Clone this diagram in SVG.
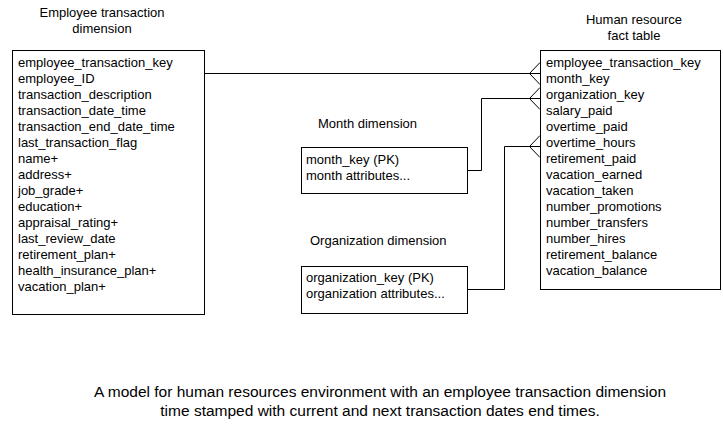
<svg xmlns="http://www.w3.org/2000/svg" width="723" height="424" viewBox="0 0 723 424">
<style>
text{font-family:"Liberation Sans",Arial,sans-serif;font-size:13px;fill:#000}
.box{fill:#fff;stroke:#000;stroke-width:1}
.ln{fill:none;stroke:#000;stroke-width:1}
.cap{font-size:15.5px}
.c{text-anchor:middle}
</style>
<rect width="723" height="424" fill="#fff"/>
<g id="title-employee"><text class="c" x="102" y="17">Employee transaction</text><text class="c" x="102" y="33">dimension</text></g>
<g id="title-fact"><text class="c" x="634" y="24">Human resource</text><text class="c" x="634" y="40">fact table</text></g>
<g id="title-month"><text x="318" y="128">Month dimension</text></g>
<g id="title-org"><text x="310" y="245">Organization dimension</text></g>
<g id="connectors">
<path class="ln" d="M204.5 73.5H540M529.5 73.5L540 62.5M529.5 73.5L540 84.5"/>
<path class="ln" d="M468 170.5H481.5V98.5H540M529.5 98.5L540 87.5M529.5 98.5L540 109.5"/>
<path class="ln" d="M468 289.5H504.5V146.5H540M529.5 146.5L540 135.5M529.5 146.5L540 157.5"/>
</g>
<g id="employee-transaction-dimension">
<rect class="box" x="12.5" y="50.5" width="192" height="264"/>
<text x="18" y="67">employee_transaction_key</text>
<text x="18" y="83">employee_ID</text>
<text x="18" y="99">transaction_description</text>
<text x="18" y="115">transaction_date_time</text>
<text x="18" y="131">transaction_end_date_time</text>
<text x="18" y="147">last_transaction_flag</text>
<text x="18" y="163">name+</text>
<text x="18" y="179">address+</text>
<text x="18" y="195">job_grade+</text>
<text x="18" y="211">education+</text>
<text x="18" y="227">appraisal_rating+</text>
<text x="18" y="243">last_review_date</text>
<text x="18" y="259">retirement_plan+</text>
<text x="18" y="275">health_insurance_plan+</text>
<text x="18" y="291">vacation_plan+</text>
</g>
<g id="month-dimension">
<rect class="box" x="301.5" y="147.5" width="166" height="46"/>
<text x="306" y="164">month_key (PK)</text>
<text x="306" y="180">month attributes...</text>
</g>
<g id="organization-dimension">
<rect class="box" x="301.5" y="266.5" width="166" height="47"/>
<text x="306" y="282">organization_key (PK)</text>
<text x="306" y="298">organization attributes...</text>
</g>
<g id="human-resource-fact-table">
<rect class="box" x="540.5" y="50.5" width="180" height="239"/>
<text x="546" y="67">employee_transaction_key</text>
<text x="546" y="83">month_key</text>
<text x="546" y="99">organization_key</text>
<text x="546" y="115">salary_paid</text>
<text x="546" y="131">overtime_paid</text>
<text x="546" y="147">overtime_hours</text>
<text x="546" y="163">retirement_paid</text>
<text x="546" y="179">vacation_earned</text>
<text x="546" y="195">vacation_taken</text>
<text x="546" y="211">number_promotions</text>
<text x="546" y="227">number_transfers</text>
<text x="546" y="243">number_hires</text>
<text x="546" y="259">retirement_balance</text>
<text x="546" y="275">vacation_balance</text>
</g>
<g id="caption">
<text class="c cap" x="380" y="397">A model for human resources environment with an employee transaction dimension</text>
<text class="c cap" x="380" y="416">time stamped with current and next transaction dates end times.</text>
</g>
</svg>
